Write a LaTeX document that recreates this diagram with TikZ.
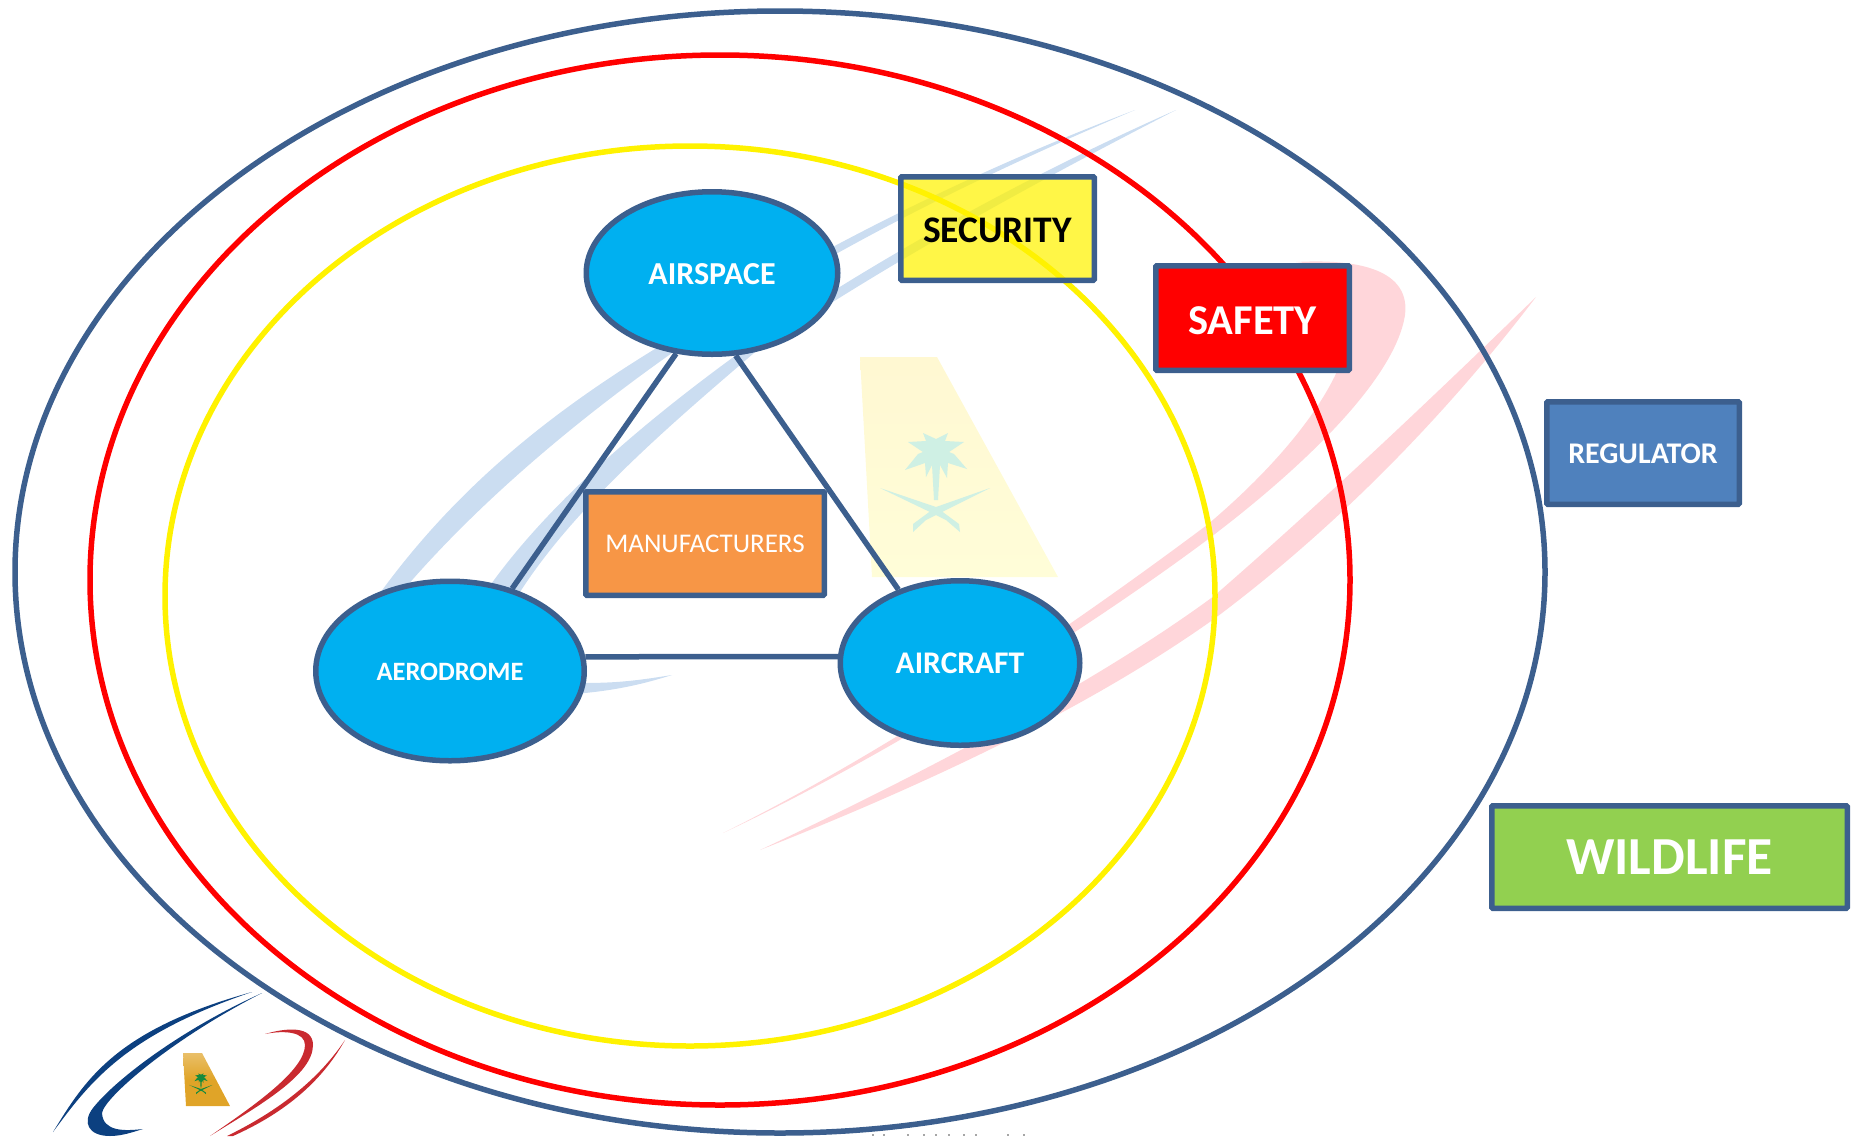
\documentclass[tikz,border=0pt]{standalone}
\usepackage{fontspec}
\setmainfont{Carlito}
\newcommand{\lowertext}[2]{\raisebox{-#1}[\height][\depth]{#2}}
\definecolor{edgeblue}{HTML}{3C5F8E}
\definecolor{skyfill}{HTML}{00B0F0}
\definecolor{orangefill}{HTML}{F79646}
\definecolor{regfill}{HTML}{4F81BD}
\definecolor{wildfill}{HTML}{92D050}
\definecolor{wmblue}{HTML}{CBDDF1}
\definecolor{wmred}{HTML}{FFD6DA}
\definecolor{wmtailtop}{HTML}{FFF8D2}
\definecolor{wmtail}{HTML}{FFFDD8}
\definecolor{wmpalm}{HTML}{CFF0E4}
\definecolor{logoblue}{HTML}{0C4080}
\definecolor{logored}{HTML}{C92A30}
\definecolor{logogold}{HTML}{E0A428}
\definecolor{logogreen}{HTML}{178A3C}
\tikzset{
  x=1pt,y=-1pt,
  ring/.style={line width=5.5pt},
  hub/.style={ellipse,draw=edgeblue,line width=5.5pt,fill=skyfill,text=white,inner sep=0pt,font=\bfseries},
  tag/.style={rectangle,draw=edgeblue,line width=5.5pt,rounded corners=1pt,inner sep=0pt,text=white,font=\bfseries},
  link/.style={draw=edgeblue,line width=5.5pt},
  palmemblem/.pic={
    \fill[pic actions] (-28,-8) -- (-10,-9) -- (-13,-17) -- (0,-11) -- (12,-17) -- (9,-9) -- (28,-8) -- (13,2) -- (18,4) -- (31,19) -- (12,13) -- (11,28) -- (4,15) -- (2,50) -- (-2,50) -- (-4,15) -- (-10,27) -- (-11,13) -- (-31,20) -- (-18,4) -- (-13,2) -- cycle;
    \fill[pic actions] (54,38) -- (0,57) -- (-23,74) -- (-23,82) -- (-10,70) -- (4,63) -- cycle;
    \fill[pic actions] (-56,38) -- (0,57) -- (23,74) -- (24,82) -- (10,70) -- (-4,63) -- cycle;
  }
}
\usetikzlibrary{shapes.geometric}
\begin{document}
\begin{tikzpicture}
\useasboundingbox (0,0) rectangle (1853,1136);
% watermark swooshes
\fill[wmblue] (1135,110) .. controls (950,180) and (800,260) .. (650,352) .. controls (540,420) and (450,495) .. (375,600) -- (395,600) .. controls (470,510) and (570,425) .. (672,353) .. controls (830,250) and (970,180) .. (1135,110) -- cycle;
\fill[wmblue] (1176,110) .. controls (1040,170) and (880,255) .. (739,353) .. controls (640,425) and (540,510) .. (480,600) -- (515,600) .. controls (570,510) and (670,425) .. (754,353) .. controls (900,255) and (1050,175) .. (1176,110) -- cycle;
\fill[wmblue] (560,682) .. controls (610,685) and (640,680) .. (672,675) .. controls (640,685) and (610,692) .. (560,695) -- cycle;
\fill[wmred] (1296,262) .. controls (1370,258) and (1410,275) .. (1405,315) .. controls (1395,380) and (1300,470) .. (1207,540) .. controls (1100,620) and (900,750) .. (723,833) .. controls (900,745) and (1080,620) .. (1207,525) .. controls (1290,455) and (1352,375) .. (1351,315) .. controls (1350,285) and (1330,265) .. (1296,262) -- cycle;
\fill[wmred] (1536,297) .. controls (1440,390) and (1330,495) .. (1214,596) .. controls (1100,680) and (930,770) .. (760,850) .. controls (950,775) and (1100,700) .. (1214,619) .. controls (1340,525) and (1450,410) .. (1536,297) -- cycle;
% watermark tail
\shade[top color=wmtailtop,bottom color=wmtail] (860,357) -- (937,357) -- (1058,577) -- (872,577) -- cycle;
\pic[fill=wmpalm] at (936,450) {palmemblem};
% rings
\draw[ring,edgeblue] (780,572) ellipse [x radius=765,y radius=561];
\draw[ring,red] (720,580) ellipse [x radius=630,y radius=525];
\draw[ring,yellow] (690,596) ellipse [x radius=525,y radius=450];
% logo
\fill[logoblue] (53,1132) .. controls (85,1080) and (115,1030) .. (252,992) .. controls (125,1035) and (90,1082) .. (53,1132) -- cycle;
\fill[logoblue] (262,993) .. controls (180,1030) and (115,1080) .. (93,1108) .. controls (82,1122) and (88,1136) .. (110,1136) .. controls (122,1136) and (133,1132) .. (143,1129) .. controls (125,1131) and (103,1132) .. (102,1113) .. controls (104,1098) and (170,1040) .. (262,993) -- cycle;
\fill[logored] (265,1034) .. controls (285,1028) and (313,1025) .. (313,1045) .. controls (313,1075) and (260,1105) .. (210,1136) .. controls (255,1105) and (305,1070) .. (305,1045) .. controls (305,1032) and (285,1030) .. (265,1034) -- cycle;
\fill[logored] (345,1040) .. controls (315,1085) and (270,1115) .. (227,1136) -- (233,1136) .. controls (280,1115) and (320,1085) .. (345,1040) -- cycle;
\shade[top color=logogold!70!white,bottom color=logogold,middle color=logogold] (183,1053) -- (202,1053) -- (230,1106) -- (186,1106) -- cycle;
\pic[fill=logogreen,scale=.21] at (201,1077) {palmemblem};
% cut-off marks at the lower edge
\foreach \mx in {872,883,907,923,935,948,963,975,1007,1023} \fill[gray!70] (\mx,1134) rectangle (\mx+2,1136);
% hubs
\node[hub,minimum width=251.5pt,minimum height=162.5pt,font=\bfseries\fontsize{32}{32}\selectfont] (airspace) at (712,273) {\lowertext{1pt}{AIRSPACE}};
\node[hub,minimum width=268.5pt,minimum height=179.5pt,font=\bfseries\fontsize{26.5}{26.5}\selectfont] (aerodrome) at (450,671) {\lowertext{1pt}{AERODROME}};
\node[hub,minimum width=239.5pt,minimum height=164.5pt,font=\bfseries\fontsize{31.5}{31.5}\selectfont] (aircraft) at (960,663) {\lowertext{.5pt}{AIRCRAFT}};
% connectors
\draw[link] (airspace.-114) -- (aerodrome.53);
\draw[link] (airspace.-74) -- (aircraft.130);
\draw[link] (aerodrome.6.5) -- (aircraft.177);
% tags
\node[tag,fill=orangefill,minimum width=238.5pt,minimum height=103.5pt,font=\fontsize{27}{27}\selectfont] (manufacturers) at (705,543.5) {MANUFACTURERS};
\node[tag,fill=yellow,fill opacity=.72,text opacity=1,text=black,minimum width=193.5pt,minimum height=103.5pt,font=\bfseries\fontsize{37.5}{37.5}\selectfont,
  path picture={\foreach \sy in {180,185.3,...,285} \draw[yellow!70!white,line width=1pt,opacity=.8] (890,\sy) -- (1105,\sy);}] (security) at (997.5,228.5) {\lowertext{2pt}{SECURITY}};
\node[tag,fill=red,minimum width=193.5pt,minimum height=104.5pt,font=\bfseries\fontsize{42.5}{42.5}\selectfont] (safety) at (1252.5,318) {\lowertext{2.5pt}{SAFETY}};
\node[tag,fill=regfill,minimum width=192.5pt,minimum height=102.5pt,font=\bfseries\fontsize{30}{30}\selectfont] (regulator) at (1643,453) {\lowertext{1pt}{REGULATOR}};
\node[tag,fill=wildfill,minimum width=355.5pt,minimum height=102.5pt,font=\bfseries\fontsize{53.5}{53.5}\selectfont] (wildlife) at (1669.5,857) {\lowertext{.5pt}{WILDLIFE}};
\end{tikzpicture}
\end{document}
